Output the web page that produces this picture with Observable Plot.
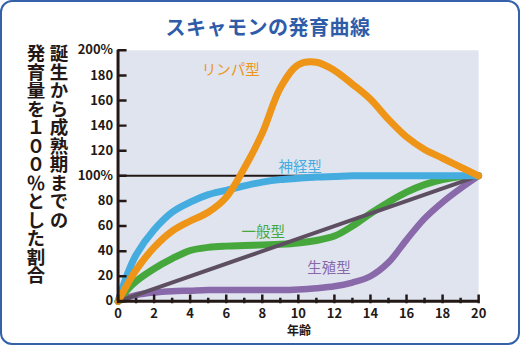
<!DOCTYPE html>
<html><head><meta charset="utf-8">
<script src="https://cdn.jsdelivr.net/npm/d3@7"></script>
<script src="https://cdn.jsdelivr.net/npm/@observablehq/plot@0.6"></script>
<style>
html,body{margin:0;padding:0;background:#fff;}
#wrap{position:relative;width:520px;height:345px;box-sizing:border-box;border:2px solid #3461a9;border-radius:12px;overflow:hidden;font-family:"Noto Sans CJK JP","Noto Sans",sans-serif;}
#title{position:absolute;left:0;top:10px;width:532px;text-align:center;font-size:20px;font-weight:bold;color:#2f5ca8;letter-spacing:0.5px;}
#ylab{position:absolute;left:22px;top:42px;writing-mode:vertical-rl;font-size:18.5px;font-weight:bold;line-height:23px;color:#231815;}
#xlab{position:absolute;left:285px;top:319px;font-size:12px;font-weight:bold;color:#231815;}
#chart{position:absolute;left:-2px;top:0px;}
</style></head>
<body>
<div id="wrap">
<div id="chart"></div>
<div id="title">スキャモンの発育曲線</div>
<div id="ylab">誕生から成熟期までの<br>発育量を１００％とした割合</div>
<div id="xlab">年齢</div>
</div>
<script>
const ages      = [0, 0.5, 1, 2, 3, 4, 5, 6, 7, 8, 9, 10, 11, 12, 13, 14, 15, 16, 17, 18, 19, 20];
const lymph     = [0, 13, 25, 43, 56, 64, 71, 83, 106, 134, 170, 188.5, 190.5, 184, 173, 161, 145, 131, 121, 114, 107, 100];
const neural    = [0, 21, 37, 57, 71, 79, 85, 88.5, 92, 95, 97, 98, 99, 99.5, 100, 100, 100, 100, 100, 100, 100, 100];
const general   = [0, 9, 16, 26, 34, 40.5, 43, 44, 44.5, 45, 45.5, 46.5, 48.5, 52, 60, 70, 79, 87, 93, 97, 99.5, 100];
const genital   = [0, 3, 5, 7, 8, 8.5, 9, 9, 9, 9, 9, 9.5, 10.5, 12, 15, 20, 31, 49, 66, 79, 90, 100];
const linearAges = [0, 20];
const linearVals = [0, 100];
const yTicks = [0, 20, 40, 60, 80, 100, 120, 140, 160, 180, 200];
const yTickLabels = ["0", "20", "40", "60", "80", "100%", "120", "140", "160", "180", "200%"];
const xMajor = [0, 2, 4, 6, 8, 10, 12, 14, 16, 18, 20];
const xMinor = [1, 3, 5, 7, 9, 11, 13, 15, 17, 19];
const labelNames = ["リンパ型", "神経型", "一般型", "生殖型"];
const labelAges  = [6.25, 10.1, 8.05, 11.7];
const labelVals  = [184, 107, 55, 26];
const colors = {lymph:"#ee9416", neural:"#45acdf", general:"#46a83c", genital:"#8a69ab", linear:"#5d4e61", axis:"#231815"};
const labelColors = [colors.lymph, colors.neural, colors.general, colors.genital];

const toPts = (vals) => ages.map((a, i) => ({age: a, v: vals[i]}));
const linPts = linearAges.map((a, i) => ({age: a, v: linearVals[i]}));
const labels = labelNames.map((n, i) => ({name: n, age: labelAges[i], v: labelVals[i], color: labelColors[i]}));

const font = "'Noto Sans CJK JP','Noto Sans',sans-serif";
const curve = "catmull-rom";
const chart = Plot.plot({
  width: 520, height: 345,
  marginLeft: 118, marginRight: 40, marginTop: 48, marginBottom: 45,
  style: {fontFamily: font, background: "transparent", color: colors.axis},
  x: {domain: [0, 20]},
  y: {domain: [0, 200]},
  marks: [
    Plot.frame({fill: "#dfe4ef", stroke: null}),
    Plot.ruleY([100], {stroke: colors.axis, strokeWidth: 2}),
    Plot.line(toPts(genital), {x: "age", y: "v", stroke: colors.genital, strokeWidth: 6.5, curve}),
    Plot.line(toPts(general), {x: "age", y: "v", stroke: colors.general, strokeWidth: 7, curve}),
    Plot.line(linPts, {x: "age", y: "v", stroke: colors.linear, strokeWidth: 4}),
    Plot.line(toPts(neural), {x: "age", y: "v", stroke: colors.neural, strokeWidth: 7, curve}),
    Plot.line(toPts(lymph), {x: "age", y: "v", stroke: colors.lymph, strokeWidth: 7, curve}),
    Plot.text(labels, {x: "age", y: "v", text: "name", fill: "color", fontSize: 14.5, fontFamily: font}),
    Plot.ruleY(yTicks, {x1: 0, x2: 0.5, stroke: colors.axis, strokeWidth: 2.5}),
    Plot.ruleX(xMajor, {y1: -2, y2: 5, stroke: colors.axis, strokeWidth: 2.5, clip: false}),
    Plot.ruleX(xMinor, {y1: -2, y2: 2.5, stroke: colors.axis, strokeWidth: 2.5, clip: false}),
    Plot.ruleX([0], {y1: 0, y2: 200, stroke: colors.axis, strokeWidth: 3}),
    Plot.ruleY([0], {x1: 0, x2: 20, stroke: colors.axis, strokeWidth: 3}),
    Plot.axisY({ticks: yTicks, tickSize: 0, tickPadding: 5, tickFormat: d => yTickLabels[yTicks.indexOf(d)], fontSize: 13, fontWeight: 600, fill: colors.axis, label: null}),
    Plot.axisX({ticks: xMajor, tickSize: 0, tickPadding: 7, fontSize: 13, fontWeight: 600, fill: colors.axis, label: null})
  ]
});
document.getElementById("chart").appendChild(chart);
</script>
</body></html>
